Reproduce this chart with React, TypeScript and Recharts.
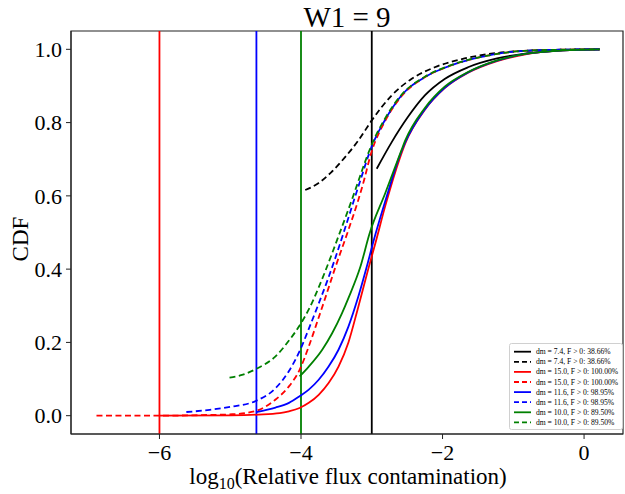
import React from 'react';
import { LineChart, Line, XAxis, YAxis, ReferenceLine, ReferenceArea } from 'recharts';

// [log10 contamination, CDF] pairs
const blackSolid = [
  [-2.93, 0.674], [-2.72, 0.746], [-2.49, 0.815], [-2.25, 0.874], [-1.97, 0.919],
  [-1.64, 0.951], [-1.23, 0.975], [-0.81, 0.989], [-0.3, 0.997], [0.22, 1.0],
];
const blackDashed = [
  [-3.94, 0.616], [-3.75, 0.635], [-3.57, 0.665], [-3.38, 0.705], [-3.19, 0.751],
  [-3.0, 0.806], [-2.72, 0.874], [-2.44, 0.919], [-2.11, 0.951], [-1.69, 0.975],
  [-1.23, 0.99], [-0.81, 0.996], [-0.3, 0.999], [0.22, 1.0],
];
const redSolid = [
  [-6.0, 0.0], [-5.0, 0.001], [-4.6, 0.003], [-4.3, 0.007], [-4.17, 0.012],
  [-4.02, 0.021], [-3.89, 0.035], [-3.75, 0.057], [-3.61, 0.089], [-3.47, 0.134],
  [-3.33, 0.2], [-3.2, 0.29], [-3.05, 0.4], [-2.95, 0.47], [-2.81, 0.572],
  [-2.6, 0.705], [-2.53, 0.742], [-2.25, 0.835], [-1.97, 0.894], [-1.64, 0.936],
  [-1.23, 0.968], [-0.81, 0.987], [-0.3, 0.997], [0.22, 1.0],
];
const redDashed = [
  [-6.89, 0.0], [-6.0, 0.0], [-5.3, 0.002], [-4.97, 0.004], [-4.78, 0.007],
  [-4.59, 0.016], [-4.36, 0.044], [-4.17, 0.08], [-4.02, 0.125], [-3.89, 0.189],
  [-3.75, 0.268], [-3.68, 0.308], [-3.52, 0.402], [-3.33, 0.507], [-3.19, 0.589],
  [-3.13, 0.628], [-3.0, 0.722], [-2.81, 0.805], [-2.58, 0.872], [-2.25, 0.924],
  [-1.88, 0.956], [-1.41, 0.981], [-0.85, 0.996], [-0.3, 0.999], [0.22, 1.0],
];
const blueSolid = [
  [-4.63, 0.01], [-4.36, 0.022], [-4.17, 0.035], [-4.02, 0.053], [-3.89, 0.071],
  [-3.75, 0.098], [-3.61, 0.134], [-3.47, 0.18], [-3.33, 0.243], [-3.19, 0.325],
  [-3.07, 0.407], [-2.97, 0.48], [-2.81, 0.585], [-2.6, 0.712], [-2.53, 0.745],
  [-2.25, 0.836], [-1.97, 0.895], [-1.64, 0.937], [-1.23, 0.969], [-0.81, 0.988],
  [-0.3, 0.997], [0.22, 1.0],
];
const blueDashed = [
  [-5.62, 0.01], [-5.29, 0.016], [-4.97, 0.025], [-4.64, 0.04], [-4.36, 0.075],
  [-4.17, 0.122], [-4.02, 0.176], [-3.89, 0.237], [-3.75, 0.306], [-3.61, 0.378],
  [-3.53, 0.422], [-3.38, 0.51], [-3.24, 0.595], [-3.17, 0.637], [-3.0, 0.735],
  [-2.81, 0.808], [-2.58, 0.874], [-2.25, 0.924], [-1.88, 0.956], [-1.41, 0.981],
  [-0.85, 0.996], [-0.3, 0.999], [0.22, 1.0],
];
const greenSolid = [
  [-4.02, 0.107], [-3.89, 0.134], [-3.7, 0.18], [-3.56, 0.225], [-3.42, 0.28],
  [-3.33, 0.321], [-3.16, 0.407], [-3.03, 0.498], [-2.81, 0.607], [-2.58, 0.725],
  [-2.53, 0.75], [-2.25, 0.84], [-1.97, 0.898], [-1.64, 0.938], [-1.23, 0.97],
  [-0.81, 0.988], [-0.3, 0.997], [0.22, 1.0],
];
const greenDashed = [
  [-5.01, 0.104], [-4.82, 0.112], [-4.64, 0.127], [-4.36, 0.162], [-4.17, 0.205],
  [-4.02, 0.246], [-3.89, 0.29], [-3.75, 0.35], [-3.66, 0.393], [-3.47, 0.49],
  [-3.28, 0.59], [-3.19, 0.64], [-3.1, 0.69], [-3.0, 0.74], [-2.81, 0.812],
  [-2.58, 0.876], [-2.25, 0.925], [-1.88, 0.957], [-1.41, 0.981], [-0.85, 0.996],
  [-0.3, 0.999], [0.22, 1.0],
];

const legendLabels = [
  'dm = 7.4, F > 0: 38.66%',
  'dm = 7.4, F > 0: 38.66%',
  'dm = 15.0, F > 0: 100.00%',
  'dm = 15.0, F > 0: 100.00%',
  'dm = 11.6, F > 0: 98.95%',
  'dm = 11.6, F > 0: 98.95%',
  'dm = 10.0, F > 0: 89.50%',
  'dm = 10.0, F > 0: 89.50%',
];

// vertical markers: start of each solid curve
const cutoffs = [-3.0, -6.0, -4.63, -4.0];
const xTicks = [-6, -4, -2, 0];
const yTicks = [0, 0.2, 0.4, 0.6, 0.8, 1.0];
const X_DOMAIN: [number, number] = [-7.25, 0.55];
const Y_DOMAIN: [number, number] = [-0.05, 1.05];

const COLORS = ['#000000', '#ff0000', '#0000ff', '#008000'];
const FONT = '"Liberation Serif", "Times New Roman", serif';

const toPoints = (arr: number[][]) => arr.map(([x, y]) => ({ x, y }));

const series = [
  { data: blackSolid, color: COLORS[0], dashed: false },
  { data: blackDashed, color: COLORS[0], dashed: true },
  { data: redSolid, color: COLORS[1], dashed: false },
  { data: redDashed, color: COLORS[1], dashed: true },
  { data: blueSolid, color: COLORS[2], dashed: false },
  { data: blueDashed, color: COLORS[2], dashed: true },
  { data: greenSolid, color: COLORS[3], dashed: false },
  { data: greenDashed, color: COLORS[3], dashed: true },
].map((s, i) => ({ ...s, points: toPoints(s.data), label: legendLabels[i] }));

const fmtX = (v: number) => (v < 0 ? `\u2212${Math.abs(v)}` : `${v}`);

export default function App() {
  return (
    <div style={{ position: 'absolute', left: 0, top: 0, width: 625, height: 494, background: '#fff' }}>
      <LineChart width={625} height={494} margin={{ top: 31, right: 2, bottom: 0, left: 0 }}>
        <XAxis
          dataKey="x"
          type="number"
          domain={X_DOMAIN}
          ticks={xTicks}
          allowDataOverflow
          tickFormatter={fmtX}
          height={60}
          tickSize={5}
          tickMargin={5}
          stroke="#222"
          tick={{ fill: '#000', fontSize: 22, fontFamily: FONT }}
        />
        <YAxis
          type="number"
          domain={Y_DOMAIN}
          ticks={yTicks}
          allowDataOverflow
          tickFormatter={(v: number) => v.toFixed(1)}
          width={71}
          tickSize={5}
          tickMargin={4}
          stroke="#222"
          tick={{ fill: '#000', fontSize: 22, fontFamily: FONT }}
        />
        <ReferenceArea
          x1={X_DOMAIN[0]}
          x2={X_DOMAIN[1]}
          y1={Y_DOMAIN[0]}
          y2={Y_DOMAIN[1]}
          fill="none"
          stroke="#222"
          strokeWidth={1.2}
        />
        {cutoffs.map((x, i) => (
          <ReferenceLine key={x} x={x} stroke={COLORS[i]} strokeWidth={1.8} />
        ))}
        {series.map((s, i) => (
          <Line
            key={i}
            data={s.points}
            dataKey="y"
            type="monotone"
            stroke={s.color}
            strokeWidth={1.8}
            strokeDasharray={s.dashed ? '6 3.5' : undefined}
            dot={false}
            activeDot={false}
            isAnimationActive={false}
          />
        ))}
      </LineChart>
      <svg
        width={625}
        height={494}
        style={{ position: 'absolute', left: 0, top: 0, pointerEvents: 'none' }}
        fontFamily={FONT}
      >
        <text x={347} y={27} textAnchor="middle" fontSize={29} fill="#000">W1 = 9</text>
        <text transform="translate(28,239) rotate(-90)" textAnchor="middle" fontSize={23} fill="#000">CDF</text>
        <text x={348} y={484} textAnchor="middle" fontSize={23} fill="#000">
          log<tspan fontSize={16} dy={5}>10</tspan>
          <tspan dy={-5}>(Relative flux contamination)</tspan>
        </text>
        <rect x={509.5} y={343.5} width={113} height={86} rx={2} fill="#fff" fillOpacity={0.85} stroke="#d0d0d0" />
        {series.map((s, i) => {
          const y = 351.7 + i * 10.1;
          return (
            <g key={i}>
              <line
                x1={514}
                x2={531}
                y1={y}
                y2={y}
                stroke={s.color}
                strokeWidth={1.8}
                strokeDasharray={s.dashed ? '5 3' : undefined}
              />
              <text x={536} y={y + 2.5} fontSize={7.6} fill="#000">{s.label}</text>
            </g>
          );
        })}
      </svg>
    </div>
  );
}
